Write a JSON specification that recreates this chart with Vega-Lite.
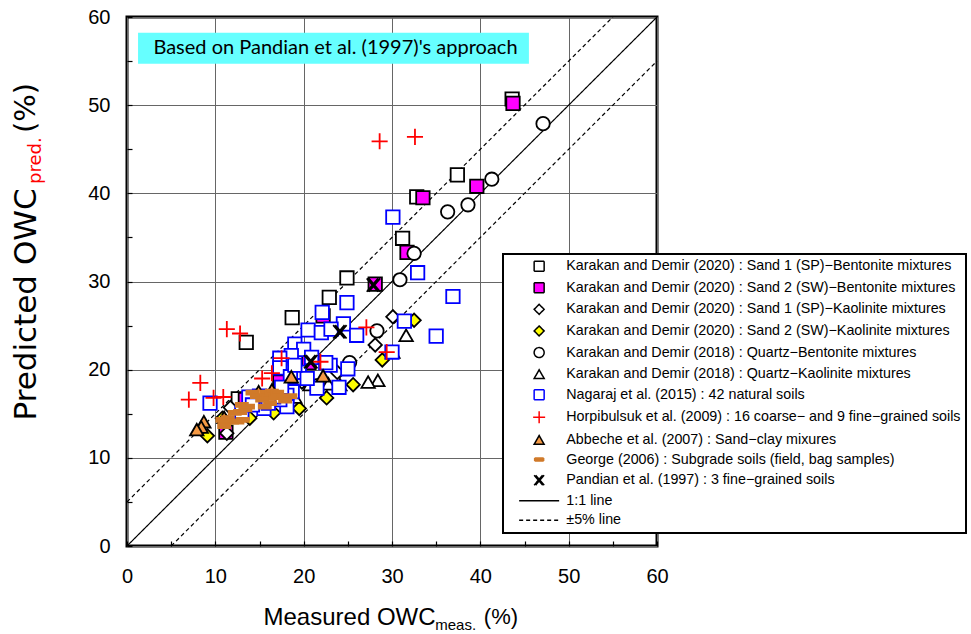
{
  "$schema": "https://vega.github.io/schema/vega-lite/v6.json",
  "width": 530,
  "height": 529,
  "autosize": {"type": "none"},
  "padding": {"left": 127, "top": 17, "right": 314, "bottom": 88},
  "background": "white",
  "datasets": {
    "points": [
      {"k": "A", "x": 43.6, "y": 50.7}, {"k": "A", "x": 37.4, "y": 42.1}, {"k": "A", "x": 32.8, "y": 39.6}, {"k": "A", "x": 31.2, "y": 34.9}, {"k": "A", "x": 24.9, "y": 30.4}, {"k": "A", "x": 22.9, "y": 28.2}, {"k": "A", "x": 18.7, "y": 25.9}, {"k": "A", "x": 13.5, "y": 23.1}, {"k": "A", "x": 12.6, "y": 16.7},
      {"k": "B", "x": 43.7, "y": 50.2}, {"k": "B", "x": 39.6, "y": 40.8}, {"k": "B", "x": 33.5, "y": 39.5}, {"k": "B", "x": 31.7, "y": 33.3}, {"k": "B", "x": 28.1, "y": 29.7}, {"k": "B", "x": 22.2, "y": 26.1}, {"k": "B", "x": 20.6, "y": 20.8}, {"k": "B", "x": 17.3, "y": 18.6}, {"k": "B", "x": 13.4, "y": 16.6}, {"k": "B", "x": 11.2, "y": 12.9},
      {"k": "C", "x": 30.1, "y": 26.0}, {"k": "C", "x": 28.1, "y": 22.8}, {"k": "C", "x": 23.8, "y": 19.7}, {"k": "C", "x": 19.8, "y": 18.6}, {"k": "C", "x": 11.7, "y": 15.7}, {"k": "C", "x": 11.3, "y": 12.8},
      {"k": "D", "x": 32.5, "y": 25.6}, {"k": "D", "x": 28.9, "y": 21.1}, {"k": "D", "x": 25.6, "y": 18.3}, {"k": "D", "x": 22.6, "y": 16.8}, {"k": "D", "x": 19.5, "y": 15.6}, {"k": "D", "x": 16.6, "y": 15.1}, {"k": "D", "x": 13.9, "y": 14.5}, {"k": "D", "x": 10.8, "y": 14.5}, {"k": "D", "x": 9.1, "y": 12.5},
      {"k": "E", "x": 47.1, "y": 47.9}, {"k": "E", "x": 41.3, "y": 41.6}, {"k": "E", "x": 38.6, "y": 38.7}, {"k": "E", "x": 36.3, "y": 37.9}, {"k": "E", "x": 32.5, "y": 33.2}, {"k": "E", "x": 30.9, "y": 30.2}, {"k": "E", "x": 28.3, "y": 24.4}, {"k": "E", "x": 25.2, "y": 20.8}, {"k": "E", "x": 21.6, "y": 18.2},
      {"k": "F", "x": 31.6, "y": 23.9}, {"k": "F", "x": 30.1, "y": 22.0}, {"k": "F", "x": 28.4, "y": 18.8}, {"k": "F", "x": 27.3, "y": 18.6}, {"k": "F", "x": 24.1, "y": 18.3}, {"k": "F", "x": 22.8, "y": 18.4}, {"k": "F", "x": 20.7, "y": 18.3}, {"k": "F", "x": 19.0, "y": 16.9},
      {"k": "G", "x": 30.1, "y": 37.3}, {"k": "G", "x": 32.9, "y": 31.0}, {"k": "G", "x": 36.9, "y": 28.3}, {"k": "G", "x": 35.0, "y": 23.8}, {"k": "G", "x": 31.4, "y": 25.5}, {"k": "G", "x": 30.0, "y": 22.0}, {"k": "G", "x": 24.9, "y": 27.6}, {"k": "G", "x": 22.1, "y": 26.5}, {"k": "G", "x": 24.5, "y": 25.2}, {"k": "G", "x": 20.5, "y": 24.5}, {"k": "G", "x": 22.0, "y": 24.2}, {"k": "G", "x": 23.1, "y": 24.6}, {"k": "G", "x": 26.0, "y": 23.9}, {"k": "G", "x": 19.0, "y": 22.9}, {"k": "G", "x": 20.0, "y": 22.3}, {"k": "G", "x": 18.6, "y": 21.6}, {"k": "G", "x": 17.3, "y": 21.3}, {"k": "G", "x": 17.3, "y": 20.2}, {"k": "G", "x": 20.9, "y": 21.4}, {"k": "G", "x": 23.0, "y": 20.5}, {"k": "G", "x": 25.0, "y": 20.1}, {"k": "G", "x": 19.5, "y": 19.7}, {"k": "G", "x": 18.5, "y": 19.2}, {"k": "G", "x": 21.5, "y": 17.9}, {"k": "G", "x": 24.0, "y": 18.0}, {"k": "G", "x": 18.7, "y": 17.5}, {"k": "G", "x": 9.4, "y": 16.2}, {"k": "G", "x": 13.8, "y": 16.9}, {"k": "G", "x": 13.0, "y": 15.1}, {"k": "G", "x": 14.9, "y": 16.3}, {"k": "G", "x": 15.5, "y": 15.6}, {"k": "G", "x": 18.1, "y": 17.1}, {"k": "G", "x": 18.1, "y": 15.8}, {"k": "G", "x": 17.3, "y": 16.6}, {"k": "G", "x": 16.6, "y": 16.9}, {"k": "G", "x": 15.0, "y": 17.0}, {"k": "G", "x": 14.2, "y": 16.0}, {"k": "G", "x": 16.0, "y": 16.2}, {"k": "G", "x": 20.4, "y": 19.0}, {"k": "G", "x": 17.5, "y": 18.0}, {"k": "G", "x": 22.5, "y": 20.8}, {"k": "G", "x": 19.0, "y": 20.5},
      {"k": "H", "x": 32.6, "y": 46.4}, {"k": "H", "x": 28.6, "y": 45.9}, {"k": "H", "x": 11.3, "y": 24.6}, {"k": "H", "x": 12.8, "y": 24.1}, {"k": "H", "x": 8.3, "y": 18.5}, {"k": "H", "x": 7.0, "y": 16.6}, {"k": "H", "x": 9.8, "y": 16.8}, {"k": "H", "x": 10.9, "y": 16.9}, {"k": "H", "x": 15.3, "y": 19.0}, {"k": "H", "x": 16.4, "y": 19.6}, {"k": "H", "x": 17.5, "y": 21.3}, {"k": "H", "x": 21.9, "y": 20.9}, {"k": "H", "x": 27.1, "y": 24.8}, {"k": "H", "x": 29.4, "y": 22.0},
      {"k": "I", "x": 8.7, "y": 14.1}, {"k": "I", "x": 8.4, "y": 13.5}, {"k": "I", "x": 7.9, "y": 13.2}, {"k": "I", "x": 11.0, "y": 14.6}, {"k": "I", "x": 14.9, "y": 17.5}, {"k": "I", "x": 16.4, "y": 17.7}, {"k": "I", "x": 18.6, "y": 19.2}, {"k": "I", "x": 22.2, "y": 19.3},
      {"k": "J", "x": 14.2, "y": 17.4}, {"k": "J", "x": 14.7, "y": 17.0}, {"k": "J", "x": 15.8, "y": 17.4}, {"k": "J", "x": 16.4, "y": 17.5}, {"k": "J", "x": 15.3, "y": 16.6}, {"k": "J", "x": 16.0, "y": 16.8}, {"k": "J", "x": 16.8, "y": 16.9}, {"k": "J", "x": 17.7, "y": 16.9}, {"k": "J", "x": 13.0, "y": 16.0}, {"k": "J", "x": 13.7, "y": 15.8}, {"k": "J", "x": 12.2, "y": 15.1}, {"k": "J", "x": 12.8, "y": 15.2}, {"k": "J", "x": 13.4, "y": 15.5}, {"k": "J", "x": 11.4, "y": 14.5}, {"k": "J", "x": 11.9, "y": 14.1}, {"k": "J", "x": 12.5, "y": 14.1}, {"k": "J", "x": 13.1, "y": 14.3}, {"k": "J", "x": 11.1, "y": 14.1}, {"k": "J", "x": 10.8, "y": 14.3}, {"k": "J", "x": 17.0, "y": 17.4}, {"k": "J", "x": 16.2, "y": 16.2}, {"k": "J", "x": 15.6, "y": 15.8}, {"k": "J", "x": 11.0, "y": 13.6}, {"k": "J", "x": 18.5, "y": 17.0}, {"k": "J", "x": 17.9, "y": 16.5},
      {"k": "K", "x": 27.9, "y": 29.6}, {"k": "K", "x": 24.1, "y": 24.3}, {"k": "K", "x": 20.8, "y": 20.9}
    ],
    "lines": [
      {"k": "L", "seg": "a", "x": 0, "y": 0}, {"k": "L", "seg": "a", "x": 60, "y": 60},
      {"k": "M", "seg": "u", "x": 0, "y": 5}, {"k": "M", "seg": "u", "x": 55, "y": 60},
      {"k": "M", "seg": "l", "x": 5, "y": 0}, {"k": "M", "seg": "l", "x": 60, "y": 55}
    ]
  },
  "layer": [
    {
      "data": {"name": "lines"},
      "mark": {"type": "line", "strokeWidth": 1.2},
      "encoding": {
        "x": {"field": "x", "type": "quantitative", "scale": {"domain": [0, 60], "nice": false, "zero": false}},
        "y": {"field": "y", "type": "quantitative", "scale": {"domain": [0, 60], "nice": false, "zero": false}},
        "detail": {"field": "seg"},
        "stroke": {
          "field": "k", "type": "nominal",
          "scale": {"domain": ["A","B","C","D","E","F","G","H","I","J","K","L","M"], "range": ["black","black","black","black","black","black","#0000FF","#FF0000","black","#D07A2A","black","black","black"]},
          "legend": {"title": null, "orient": "none", "legendX": 376, "legendY": 237}
        },
        "strokeDash": {
          "field": "k", "type": "nominal",
          "scale": {"domain": ["A","B","C","D","E","F","G","H","I","J","K","L","M"], "range": [[1,0],[1,0],[1,0],[1,0],[1,0],[1,0],[1,0],[1,0],[1,0],[1,0],[1,0],[1,0],[4,3]]},
          "legend": {"title": null, "orient": "none", "legendX": 376, "legendY": 237}
        }
      }
    },
    {
      "data": {"name": "points"},
      "mark": {"type": "point", "filled": true, "opacity": 1, "size": 180, "strokeWidth": 1.8},
      "encoding": {
        "x": {
          "field": "x", "type": "quantitative",
          "scale": {"domain": [0, 60], "nice": false, "zero": false},
          "axis": {
            "title": "Measured OWC",
            "values": [0, 5, 10, 15, 20, 25, 30, 35, 40, 45, 50, 55, 60],
            "labelExpr": "datum.value % 10 === 0 ? datum.label : ''",
            "gridOpacity": {"condition": {"test": "datum.value % 10 === 0", "value": 1}, "value": 0},
            "labelPadding": 25,
            "titleX": 136, "titleY": 78, "titleAlign": "left", "titleBaseline": "alphabetic",
            "titleFont": "Liberation Sans", "titleFontSize": 24
          }
        },
        "y": {
          "field": "y", "type": "quantitative",
          "scale": {"domain": [0, 60], "nice": false, "zero": false},
          "axis": {
            "title": "Predicted OWC",
            "values": [0, 5, 10, 15, 20, 25, 30, 35, 40, 45, 50, 55, 60],
            "labelExpr": "datum.value % 10 === 0 ? datum.label : ''",
            "gridOpacity": {"condition": {"test": "datum.value % 10 === 0", "value": 1}, "value": 0},
            "labelPadding": 22,
            "titleX": -92, "titleY": 403, "titleAngle": 270, "titleAlign": "left", "titleBaseline": "alphabetic",
            "titleFont": "DejaVu Sans", "titleFontSize": 31
          }
        },
        "shape": {
          "field": "k", "type": "nominal",
          "scale": {"domain": ["A","B","C","D","E","F","G","H","I","J","K","L","M"], "range": ["square","square","diamond","diamond","circle","triangle-up","square","M-1.2,0L1.2,0M0,-1.2L0,1.2","triangle-up","M-0.9,-0.3L0.9,-0.3L0.9,0.3L-0.9,0.3Z","M-1,-1L0.7,1M-0.7,-1L1,1M-1,1L0.7,-1M-0.7,1L1,-1","M-4,0L4,0","M-4,0L4,0"]},
          "legend": {
            "title": null, "orient": "none", "legendX": 376, "legendY": 237,
            "labelExpr": "{'A':'Karakan and Demir (2020) : Sand 1 (SP)−Bentonite mixtures','B':'Karakan and Demir (2020) : Sand 2 (SW)−Bentonite mixtures','C':'Karakan and Demir (2020) : Sand 1 (SP)−Kaolinite mixtures','D':'Karakan and Demir (2020) : Sand 2 (SW)−Kaolinite mixtures','E':'Karakan and Demir (2018) : Quartz−Bentonite mixtures','F':'Karakan and Demir (2018) : Quartz−Kaolinite mixtures','G':'Nagaraj et al. (2015) : 42 natural soils','H':'Horpibulsuk et al. (2009) : 16 coarse− and 9 fine−grained soils','I':'Abbeche et al. (2007) : Sand−clay mixures','J':'George (2006) : Subgrade soils (field, bag samples)','K':'Pandian et al. (1997) : 3 fine−grained soils','L':'1:1 line','M':'±5% line'}[datum.label]"
          }
        },
        "fill": {
          "field": "k", "type": "nominal",
          "scale": {"domain": ["A","B","C","D","E","F","G","H","I","J","K","L","M"], "range": ["white","#FF00FF","white","#FFFF00","white","white","white","transparent","#F59A45","#D07A2A","transparent","transparent","transparent"]},
          "legend": {"title": null, "orient": "none", "legendX": 376, "legendY": 237}
        },
        "stroke": {
          "field": "k", "type": "nominal",
          "scale": {"domain": ["A","B","C","D","E","F","G","H","I","J","K","L","M"], "range": ["black","black","black","black","black","black","#0000FF","#FF0000","black","#D07A2A","black","black","black"]},
          "legend": {"title": null, "orient": "none", "legendX": 376, "legendY": 237}
        }
      }
    },
    {
      "data": {"values": [{}]},
      "mark": {"type": "rect", "color": "#66FFFF"},
      "encoding": {
        "x": {"datum": 1.25, "type": "quantitative"},
        "x2": {"datum": 45.5},
        "y": {"datum": 58.2, "type": "quantitative"},
        "y2": {"datum": 54.7}
      }
    },
    {
      "data": {"values": [{}]},
      "mark": {"type": "text", "font": "Lato", "fontSize": 20, "color": "black", "align": "center", "baseline": "middle"},
      "encoding": {
        "x": {"datum": 23.6, "type": "quantitative"},
        "y": {"datum": 56.45, "type": "quantitative"},
        "text": {"value": "Based on Pandian et al. (1997)'s approach"}
      }
    },
    {
      "data": {"values": [{}]},
      "mark": {"type": "text", "font": "Liberation Sans", "fontSize": 15, "color": "black", "align": "left", "baseline": "alphabetic"},
      "encoding": {
        "x": {"datum": 34.9, "type": "quantitative"},
        "y": {"datum": -9.53, "type": "quantitative"},
        "text": {"value": "meas."}
      }
    },
    {
      "data": {"values": [{}]},
      "mark": {"type": "text", "font": "Liberation Sans", "fontSize": 22, "color": "black", "align": "left", "baseline": "alphabetic"},
      "encoding": {
        "x": {"datum": 40.4, "type": "quantitative"},
        "y": {"datum": -8.85, "type": "quantitative"},
        "text": {"value": "(%)"}
      }
    },
    {
      "data": {"values": [{}]},
      "mark": {"type": "text", "font": "DejaVu Sans", "fontSize": 18, "color": "#FF0000", "align": "left", "baseline": "alphabetic", "angle": 270},
      "encoding": {
        "x": {"datum": -9.74, "type": "quantitative"},
        "y": {"datum": 41.06, "type": "quantitative"},
        "text": {"value": "pred."}
      }
    },
    {
      "data": {"values": [{}]},
      "mark": {"type": "text", "font": "DejaVu Sans", "fontSize": 29, "color": "black", "align": "left", "baseline": "alphabetic", "angle": 270},
      "encoding": {
        "x": {"datum": -10.4, "type": "quantitative"},
        "y": {"datum": 46.84, "type": "quantitative"},
        "text": {"value": "(%)"}
      }
    }
  ],
  "config": {
    "view": {"stroke": "black", "strokeWidth": 3},
    "axis": {
      "domain": false,
      "grid": true,
      "gridColor": "#666666",
      "gridWidth": 1,
      "tickSize": -5,
      "tickColor": "black",
      "tickWidth": 1.2,
      "labelFont": "Liberation Sans",
      "labelFontSize": 20,
      "labelColor": "black",
      "labelFlush": false,
      "labelOverlap": false,
      "titleFontWeight": "normal",
      "titleColor": "black"
    },
    "legend": {
      "labelFont": "Liberation Sans",
      "labelFontSize": 14.3,
      "labelColor": "black",
      "labelLimit": 600,
      "symbolSize": 100,
      "symbolStrokeWidth": 1.5,
      "padding": 5,
      "rowPadding": 4.6,
      "symbolOffset": 24,
      "labelOffset": 20,
      "strokeColor": "black",
      "strokeWidth": 2,
      "fillColor": "white"
    }
  }
}
